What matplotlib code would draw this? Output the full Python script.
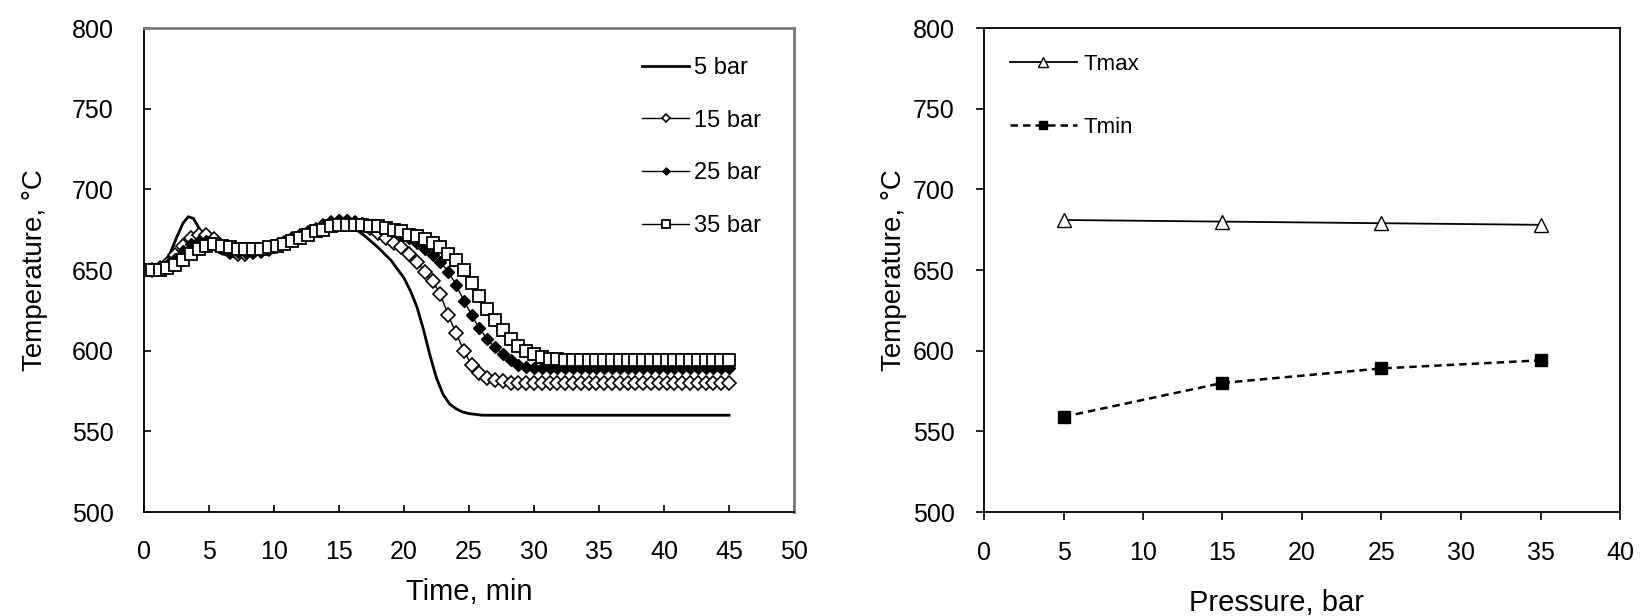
import numpy as np
import matplotlib.pyplot as plt

plt.rcParams['font.family'] = ['Liberation Sans', 'DejaVu Sans']

# temperature history, 5 bar (solid line, no markers)
time_5 = [0, 1, 1.5, 2, 2.5, 3, 3.4, 3.8, 4.3, 5, 5.5, 6, 7, 8, 9, 10, 11, 12, 13, 14,
          15, 15.5, 16, 17, 18, 19, 20, 20.5, 21, 21.5, 22, 22.5, 23, 23.5, 24, 24.5,
          25, 26, 27, 30, 35, 40, 45]
temp_5 = [650, 651, 653, 660, 670, 679, 683, 682, 675, 667, 662, 660, 658, 659, 661, 664,
          667, 671, 675, 679, 681, 680, 677, 671, 664, 656, 645, 637, 627, 613, 597, 583,
          573, 567, 564, 562, 561, 560, 560, 560, 560, 560, 560]

# sampled series with markers, every 0.6 min
time_s = np.round(np.arange(76) * 0.6, 1)
temp_15 = [650, 650, 651, 654, 659, 665, 670, 672, 672, 669,
           664, 661, 660, 660, 661, 662, 663, 665, 667, 669,
           671, 673, 675, 677, 679, 680, 680, 679, 678, 676,
           673, 670, 667, 664, 660, 655, 649, 643, 635, 622,
           611, 600, 591, 586, 583, 582, 581, 580, 580, 580] + [580] * 26
temp_25 = [650, 650, 651, 653, 657, 662, 666, 668, 668, 667,
           664, 662, 661, 661, 661, 662, 663, 665, 667, 669,
           671, 673, 675, 677, 679, 681, 681, 680, 679, 678,
           677, 676, 674, 672, 670, 667, 663, 659, 655, 649,
           641, 631, 622, 614, 607, 602, 598, 594, 591, 590] + [589] * 26
temp_35 = [650, 650, 650, 651, 653, 656, 660, 663, 665, 666,
           665, 664, 663, 663, 663, 663, 664, 665, 666, 668,
           670, 672, 674, 675, 677, 678, 678, 678, 678, 677,
           677, 676, 675, 674, 672, 671, 669, 667, 664, 660,
           656, 650, 642, 634, 626, 619, 613, 607, 603, 600,
           598, 596, 595, 595] + [594] * 22

# peak and final temperatures against pressure
pressure = [5, 15, 25, 35]
t_max = [681, 680, 679, 678]
t_min = [559, 580, 589, 594]

W, H = 1649, 616
fig = plt.figure(figsize=(W / 100, H / 100), dpi=100)
fs = 18

# left panel
ax1 = fig.add_axes([144 / W, 1 - 512 / H, 650 / W, 484 / H])
ax1.plot(time_5, temp_5, color='black', lw=2, label='5 bar')
ax1.plot(time_s, temp_15, color='black', lw=1, marker='D', ms=7.5, mfc='white',
         mec='black', mew=1.2, label='15 bar')
ax1.plot(time_s, temp_25, color='black', lw=1, marker='D', ms=6, mfc='black',
         mec='black', mew=1, label='25 bar')
ax1.plot(time_s, temp_35, color='black', lw=1, marker='s', ms=8.5, mfc='white',
         mec='black', mew=1.3, label='35 bar')
ax1.set_xlim(0, 50)
ax1.set_ylim(500, 800)
ax1.set_xticks(range(0, 51, 5))
ax1.set_yticks(range(500, 801, 50))
ax1.tick_params(axis='x', direction='in', length=5, width=1.2, pad=20, labelsize=fs)
ax1.tick_params(axis='y', direction='in', length=5, width=1.2, pad=22, labelsize=fs)
ax1.set_xlabel('Time, min', fontsize=fs + 3, labelpad=10)
ax1.set_ylabel('Temperature, \u00b0C', fontsize=fs + 2, labelpad=17)
for side in ['left', 'bottom']:
    ax1.spines[side].set_color('black')
    ax1.spines[side].set_linewidth(1.3)
for side in ['top', 'right']:
    ax1.spines[side].set_color('#7a7a7a')
    ax1.spines[side].set_linewidth(2)
ax1.legend(loc='upper left', bbox_to_anchor=(642 / W, 1 - 57 / H),
           bbox_transform=fig.transFigure, frameon=False, fontsize=17,
           handlelength=2.0, handletextpad=0.2, labelspacing=1.3,
           borderpad=0, borderaxespad=0, markerscale=0.6)

# right panel
ax2 = fig.add_axes([984 / W, 1 - 512 / H, 636 / W, 484 / H])
ax2.plot(pressure, t_max, color='black', lw=1.3, marker='^', ms=10, mfc='white',
         mec='black', mew=1, label='Tmax')
ax2.plot(pressure, t_min, color='black', lw=1.8, ls=(0, (3, 2)), marker='s', ms=9,
         mfc='black', mec='black', label='Tmin')
ax2.set_xlim(0, 40)
ax2.set_ylim(500, 800)
ax2.set_xticks(range(0, 41, 5))
ax2.set_yticks(range(500, 801, 50))
ax2.tick_params(direction='out', length=6, width=1.2, pad=15, labelsize=fs)
ax2.set_xlabel('Pressure, bar', fontsize=fs + 3, labelpad=14)
ax2.xaxis.set_label_coords(0.46, -0.16)
ax2.set_ylabel('Temperature, \u00b0C', fontsize=fs + 2, labelpad=4)
for side in ax2.spines:
    ax2.spines[side].set_color('black')
    ax2.spines[side].set_linewidth(1.3)
ax2.legend(loc='upper left', bbox_to_anchor=(1010 / W, 1 - 54 / H),
           bbox_transform=fig.transFigure, frameon=False, fontsize=16,
           handlelength=3.0, handletextpad=0.3, labelspacing=1.9,
           borderpad=0, borderaxespad=0, markerscale=0.7)

fig.savefig('out.png', dpi=100)
